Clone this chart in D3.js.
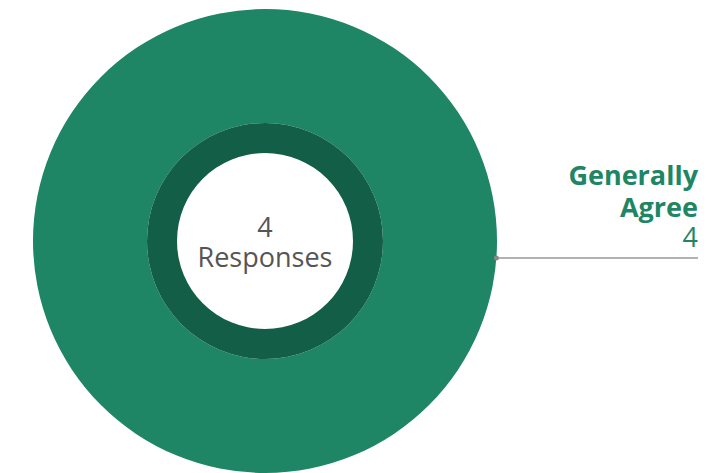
<!DOCTYPE html>
<html>
<head>
<meta charset="utf-8">
<script src="https://cdn.jsdelivr.net/npm/d3@7"></script>
<style>
  html, body { margin: 0; padding: 0; background: #fff; }
  svg { display: block; }
  text { font-family: "Open Sans", "Noto Sans", sans-serif; }
</style>
</head>
<body>
<svg id="chart" width="709" height="473"></svg>
<script>
// Survey answers
const categories = ["Generally Agree"];
const values = [4];
const colors = ["#1e8565"];
const innerColors = ["#125e47"];
const totalLabel = "Responses";

const svg = d3.select("#chart");
const cx = 265, cy = 241;
const rOuter = 232, rMid = 118, rInner = 88;

const total = d3.sum(values);
const pie = d3.pie().sort(null).value(d => d.value);
const arcs = pie(categories.map((c, i) => ({ name: c, value: values[i], i })));

const g = svg.append("g").attr("transform", `translate(${cx},${cy})`);

const outerArc = d3.arc().innerRadius(rMid).outerRadius(rOuter);
const innerArc = d3.arc().innerRadius(rInner).outerRadius(rMid);

g.selectAll("path.outer").data(arcs).join("path")
  .attr("class", "outer")
  .attr("d", outerArc)
  .attr("fill", d => colors[d.data.i]);

g.selectAll("path.inner").data(arcs).join("path")
  .attr("class", "inner")
  .attr("d", innerArc)
  .attr("fill", d => innerColors[d.data.i]);

// Centre total
const center = g.append("text").attr("text-anchor", "middle").attr("fill", "#555").style("font-size", "27px");
center.append("tspan").attr("x", 0).attr("y", -4).text(total);
center.append("tspan").attr("x", 0).attr("y", 26).text(totalLabel);

// Callout for each slice
const labelX = 698;
arcs.forEach(d => {
  const lineY = cy + 17;
  const startX = cx + Math.sqrt(rOuter * rOuter - 17 * 17);
  svg.append("line")
    .attr("x1", startX).attr("x2", labelX)
    .attr("y1", lineY).attr("y2", lineY)
    .attr("stroke", "#999").attr("stroke-width", 1.5);
  svg.append("circle").attr("cx", startX).attr("cy", lineY).attr("r", 2.5).attr("fill", "#888");

  const words = d.data.name.split(" ");
  const t = svg.append("text").attr("text-anchor", "end").attr("fill", colors[d.data.i]).style("font-size", "27px");
  words.forEach((w, k) => {
    t.append("tspan").attr("x", labelX).attr("y", 185 + k * 32).style("font-weight", "700").text(w);
  });
  t.append("tspan").attr("x", labelX).attr("y", 185 + words.length * 32 - 2).style("font-weight", "400").text(d.data.value);
});
</script>
</body>
</html>
